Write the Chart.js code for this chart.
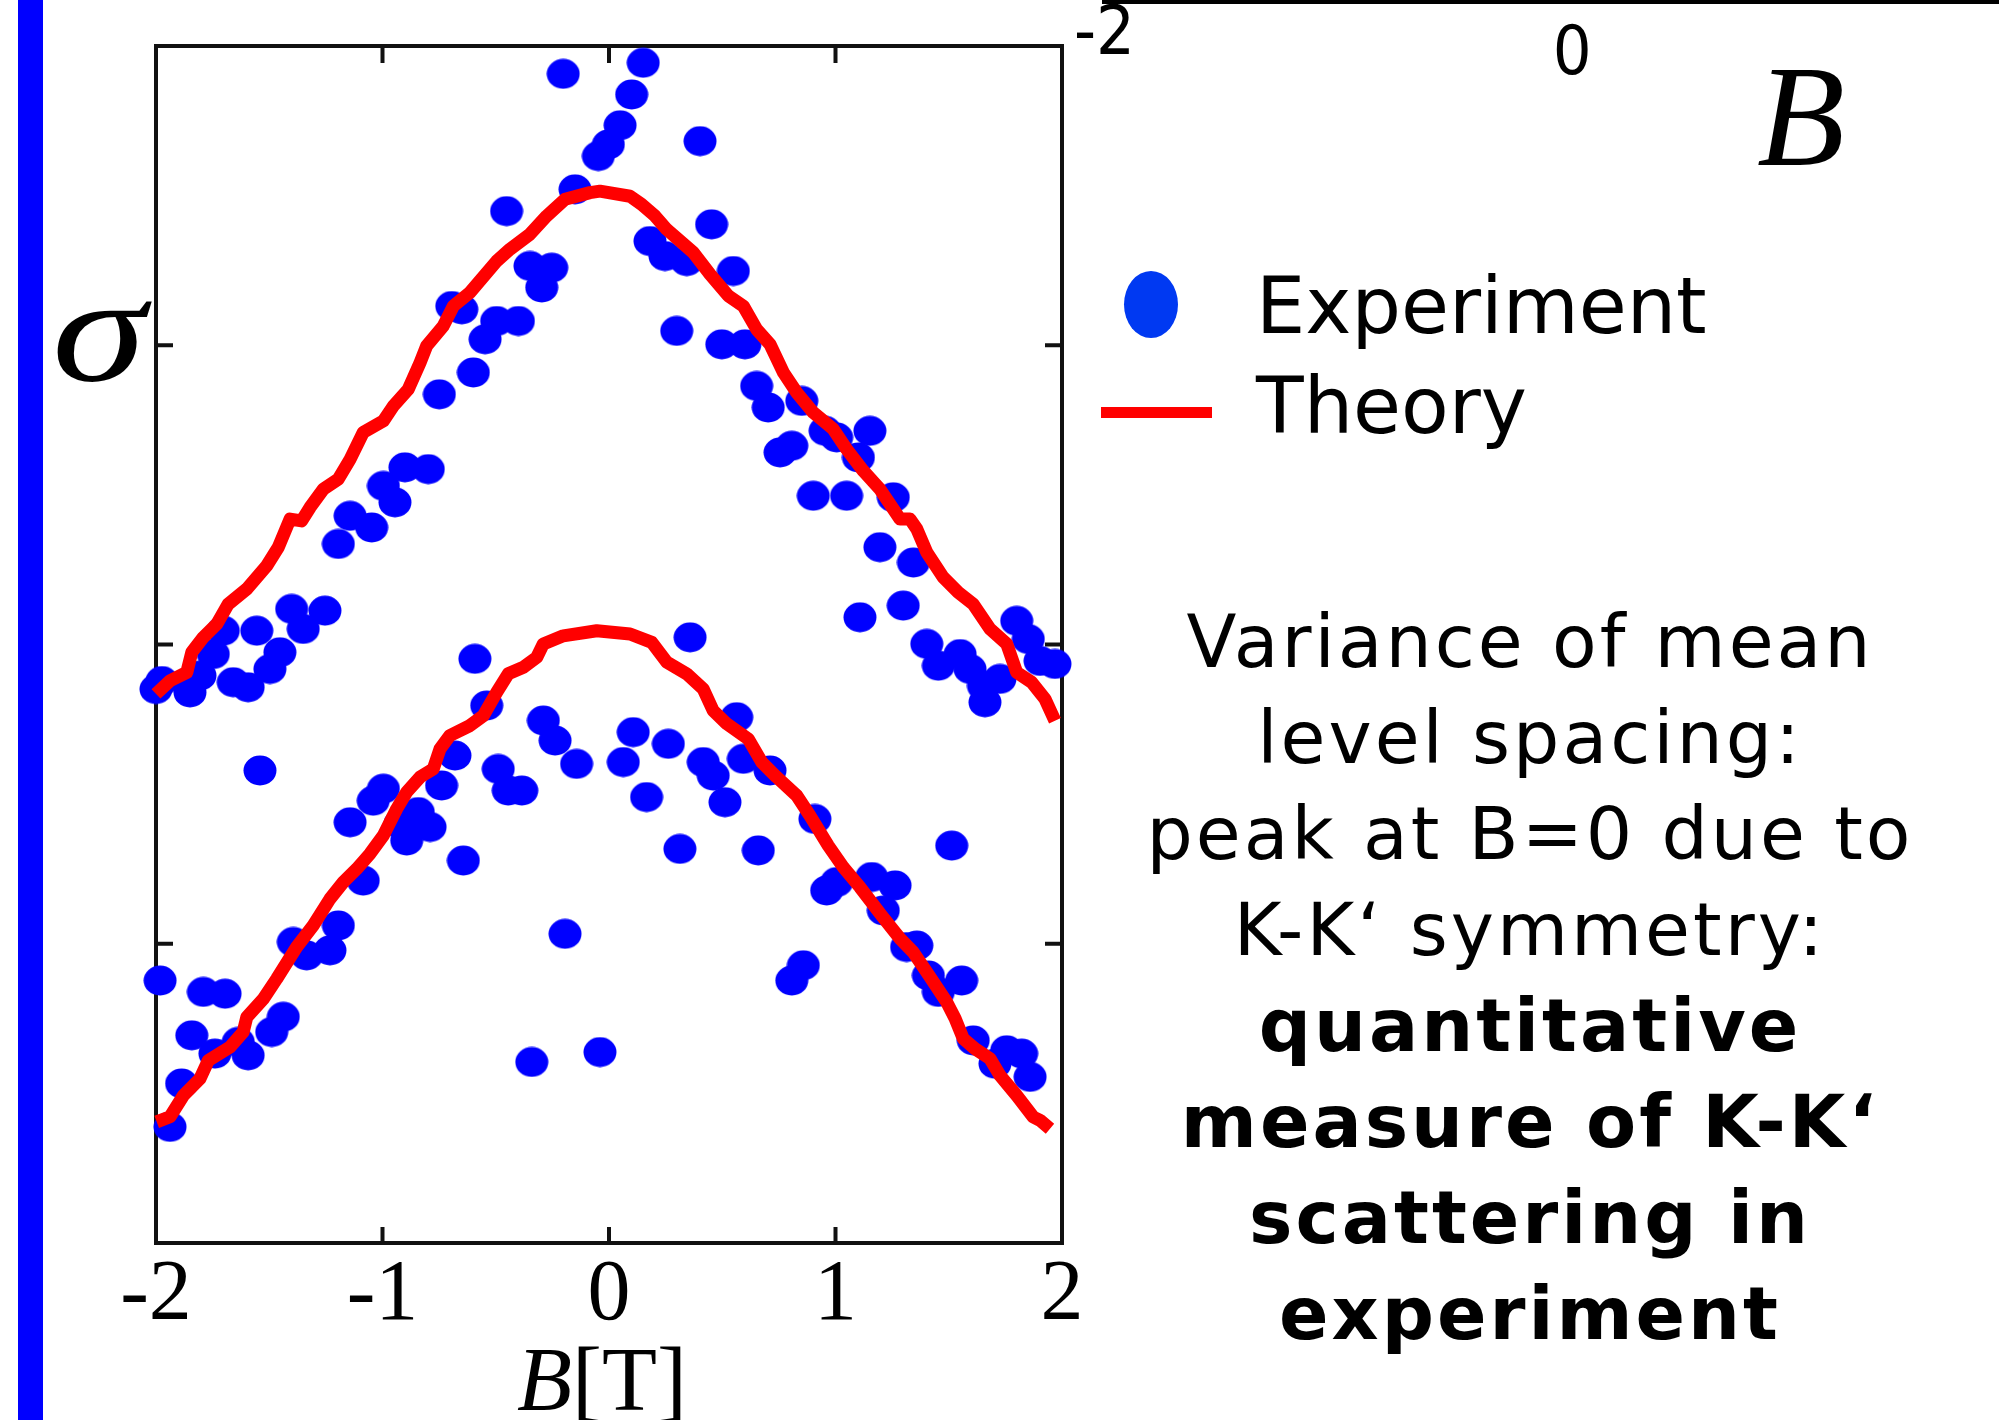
<!DOCTYPE html>
<html>
<head>
<meta charset="utf-8">
<script src="https://cdn.jsdelivr.net/npm/chart.js@4.4.1/dist/chart.umd.min.js"></script>
<style>
  html, body { margin: 0; padding: 0; background: #fff; }
  body { width: 1999px; height: 1420px; position: relative; overflow: hidden; }
  .abs { position: absolute; white-space: nowrap; color: #000; }
  #bar { left: 18px; top: 0; width: 25px; height: 1420px; background: #0000ff; }
  #main { left: 0; top: 0; width: 1100px; height: 1420px; }
  #top { left: 1060px; top: -216px; width: 1020px; height: 300px; }
  .serif { font-family: 'Liberation Serif', 'DejaVu Serif', serif; }
  .sans { font-family: 'DejaVu Sans', sans-serif; }
  #sigma { left: 52px; top: 254px; font-size: 152px; line-height: 1; font-style: italic;
           transform: scaleX(1.25); transform-origin: left top; }
  #xtitle { left: 517px; top: 1335px; font-size: 90px; line-height: 1; }
  #bigB { left: 1757px; top: 45px; font-size: 144px; line-height: 1; font-style: italic; }
  #dotKey { left: 1124px; top: 271px; width: 54px; height: 67px; border-radius: 50%; background: #0039f2; }
  #lineKey { left: 1101px; top: 407px; width: 111px; height: 11px; background: #ff0000; }
  .key { left: 1256px; font-size: 78px; line-height: 1; }
  #note { left: 1130px; top: 594px; width: 800px; text-align: center; font-size: 73px;
          line-height: 96px; letter-spacing: 3px; white-space: normal; }
  #note b { font-weight: bold; }
</style>
</head>
<body>
<div id="bar" class="abs"></div>
<div id="main" class="abs"><canvas id="varianceChart"></canvas></div>
<div id="top" class="abs"><canvas id="topAxis"></canvas></div>

<div id="sigma" class="abs serif">σ</div>
<div id="xtitle" class="abs serif"><i>B</i>[T]</div>
<div id="bigB" class="abs serif">B</div>

<div id="dotKey" class="abs"></div>
<div class="abs sans key" style="top:267px">Experiment</div>
<div id="lineKey" class="abs"></div>
<div class="abs sans key" style="top:367px">Theory</div>

<div id="note" class="abs sans">Variance of mean<br>level spacing:<br>peak at B=0 due to<br>K-K‘ symmetry:<br><b>quantitative<br>measure of K-K‘<br>scattering in<br>experiment</b></div>

<script>
// magnetic field B [T] and sigma (arb. units)
const upperExpB = [-0.202, 0.151, 0.100, 0.049, -0.003, -0.047, -0.150, -0.452, 0.181, 0.247,
  0.343, -0.349, -0.253, -0.297, -0.694, -0.650, -0.496, -0.400, -0.547, -0.599,
  -0.749, -0.901, -0.798, -0.996, -0.945, -1.143, -1.048, -1.195, -1.401, -1.254,
  -1.350, -1.555, -1.703, -1.453, -1.747, -1.497, -1.806, -1.659, -1.593, -1.850,
  -1.974, -2.000, 0.402, 0.453, 0.549, 0.299, 0.498, 0.600, 0.652, 0.703,
  0.851, 0.954, 1.005, 1.152, 1.101, 0.755, 0.807, 0.902, 1.049, 1.255,
  1.196, 1.344, 1.108, 1.299, 1.800, 1.851, 1.403, 1.454, 1.550, 1.594,
  1.653, 1.660, 1.726, 1.903, 1.969];
const upperExpSigma = [3.907, 3.944, 3.838, 3.735, 3.671, 3.632, 3.521, 3.448, 3.348, 3.298,
  3.281, 3.265, 3.259, 3.193, 3.131, 3.120, 3.081, 3.081, 3.020, 2.909,
  2.836, 2.592, 2.586, 2.530, 2.475, 2.430, 2.391, 2.336, 2.119, 2.113,
  2.052, 2.046, 2.046, 1.974, 1.968, 1.918, 1.896, 1.874, 1.857, 1.840,
  1.878, 1.851, 3.682, 3.404, 3.248, 3.048, 3.003, 3.003, 2.864, 2.792,
  2.814, 2.714, 2.692, 2.714, 2.625, 2.642, 2.664, 2.497, 2.497, 2.492,
  2.325, 2.274, 2.091, 2.130, 2.079, 2.018, 2.002, 1.929, 1.968, 1.918,
  1.862, 1.807, 1.885, 1.945, 1.935];

const lowerExpB = [-0.592, -0.540, -0.290, -0.238, 0.107, 0.063, -0.143, 0.166, -0.680, -0.739,
  -0.489, -0.445, -0.385, -0.996, -1.041, -1.541, -1.143, -0.842, -0.790, -0.923,
  -0.893, -0.643, -1.085, -1.195, -1.394, -1.335, -1.232, -0.194, -1.982, -1.791,
  -1.695, -1.438, -1.842, -1.740, -1.593, -1.637, -1.489, -1.887, -1.938, -0.341,
  -0.040, 0.358, 0.262, 0.416, 0.460, 0.512, 0.564, 0.593, 0.711, 0.909,
  0.313, 0.659, 1.513, 0.961, 1.005, 1.160, 1.263, 1.211, 1.359, 1.314,
  1.410, 1.557, 1.454, 0.858, 0.807, 1.608, 1.756, 1.822, 1.704, 1.859];
const lowerExpSigma = [1.952, 1.796, 1.746, 1.679, 1.707, 1.607, 1.601, 1.490, 1.629, 1.529,
  1.584, 1.512, 1.512, 1.518, 1.478, 1.579, 1.406, 1.440, 1.390, 1.401,
  1.345, 1.278, 1.211, 1.061, 1.006, 0.961, 0.978, 1.033, 0.877, 0.839,
  0.833, 0.756, 0.694, 0.633, 0.627, 0.672, 0.705, 0.533, 0.388, 0.605,
  0.638, 2.024, 1.668, 1.607, 1.562, 1.473, 1.757, 1.618, 1.579, 1.417,
  1.317, 1.312, 1.328, 1.178, 1.206, 1.223, 1.195, 1.111, 0.994, 0.989,
  0.894, 0.877, 0.839, 0.928, 0.877, 0.677, 0.644, 0.633, 0.599, 0.555];

const upperTheoryB = [-2.000, -1.938, -1.864, -1.842, -1.791, -1.732, -1.681, -1.600, -1.511, -1.460,
  -1.408, -1.357, -1.320, -1.261, -1.195, -1.143, -1.085, -0.996, -0.952, -0.886,
  -0.834, -0.805, -0.732, -0.687, -0.614, -0.496, -0.437, -0.349, -0.275, -0.194,
  -0.084, -0.040, 0.093, 0.144, 0.203, 0.255, 0.372, 0.446, 0.527, 0.593,
  0.652, 0.711, 0.770, 0.829, 0.902, 0.990, 1.049, 1.123, 1.196, 1.285,
  1.329, 1.359, 1.403, 1.476, 1.542, 1.608, 1.682, 1.756, 1.800, 1.866,
  1.925, 1.969];
const upperTheorySigma = [1.835, 1.879, 1.907, 1.974, 2.024, 2.068, 2.135, 2.185, 2.263, 2.325,
  2.419, 2.413, 2.458, 2.519, 2.553, 2.619, 2.709, 2.747, 2.797, 2.853,
  2.942, 2.998, 3.064, 3.131, 3.176, 3.281, 3.321, 3.371, 3.432, 3.488,
  3.510, 3.515, 3.498, 3.471, 3.432, 3.387, 3.310, 3.237, 3.165, 3.131,
  3.053, 3.003, 2.909, 2.842, 2.775, 2.720, 2.653, 2.580, 2.519, 2.419,
  2.419, 2.386, 2.308, 2.224, 2.174, 2.135, 2.052, 2.002, 1.907, 1.874,
  1.818, 1.745];

const lowerTheoryB = [-1.997, -1.938, -1.879, -1.806, -1.769, -1.673, -1.615, -1.599, -1.526, -1.467,
  -1.379, -1.306, -1.232, -1.173, -1.114, -1.055, -0.996, -0.937, -0.893, -0.834,
  -0.776, -0.746, -0.702, -0.614, -0.555, -0.496, -0.445, -0.378, -0.319, -0.290,
  -0.202, -0.054, 0.093, 0.189, 0.255, 0.343, 0.416, 0.460, 0.520, 0.615,
  0.674, 0.740, 0.829, 0.887, 0.968, 1.034, 1.108, 1.204, 1.285, 1.343,
  1.417, 1.491, 1.528, 1.564, 1.616, 1.682, 1.726, 1.800, 1.873, 1.903,
  1.947];
const lowerTheorySigma = [0.405, 0.422, 0.493, 0.549, 0.610, 0.655, 0.705, 0.755, 0.816, 0.883,
  0.989, 1.061, 1.150, 1.206, 1.250, 1.301, 1.362, 1.451, 1.507, 1.557,
  1.584, 1.651, 1.696, 1.729, 1.762, 1.840, 1.902, 1.924, 1.957, 2.002,
  2.029, 2.046, 2.035, 2.007, 1.941, 1.902, 1.851, 1.779, 1.735, 1.684,
  1.607, 1.557, 1.495, 1.428, 1.328, 1.256, 1.189, 1.094, 1.017, 0.972,
  0.889, 0.805, 0.750, 0.683, 0.649, 0.616, 0.560, 0.493, 0.421, 0.410,
  0.382];

const xTickLabels = ['-2', '-1', '0', '1', '2'];
const innerXTicks = [-1, 0, 1];
const innerYTicks = [1, 2, 3];
const topAxisLabels = ['-2', '0', '2'];

const toPoints = (xs, ys) => xs.map((x, i) => ({ x: x, y: ys[i] }));

// slightly flattened dot, like the scanned markers
const dot = document.createElement('canvas');
dot.width = 34;
dot.height = 31;
const dctx = dot.getContext('2d');
dctx.fillStyle = '#0000ff';
dctx.beginPath();
dctx.ellipse(17, 15.5, 16.5, 15, 0, 0, Math.PI * 2);
dctx.fill();

// box frame with inward ticks
const frameTicks = {
  id: 'frameTicks',
  beforeDatasetsDraw(chart) {
    const { ctx, chartArea: a, scales } = chart;
    ctx.save();
    ctx.strokeStyle = '#111';
    ctx.lineWidth = 4;
    ctx.strokeRect(a.left, a.top, a.right - a.left, a.bottom - a.top);
    ctx.beginPath();
    innerXTicks.forEach(v => {
      const px = scales.x.getPixelForValue(v);
      ctx.moveTo(px, a.top); ctx.lineTo(px, a.top + 17);
      ctx.moveTo(px, a.bottom); ctx.lineTo(px, a.bottom - 16);
    });
    innerYTicks.forEach(v => {
      const py = scales.y.getPixelForValue(v);
      ctx.moveTo(a.left, py); ctx.lineTo(a.left + 17, py);
      ctx.moveTo(a.right, py); ctx.lineTo(a.right - 17, py);
    });
    ctx.stroke();
    ctx.restore();
  }
};

const theoryStyle = {
  showLine: true,
  borderColor: '#ff0000',
  borderWidth: 13,
  borderJoinStyle: 'round',
  pointRadius: 0,
  tension: 0,
  order: 0,
  clip: false
};

new Chart(document.getElementById('varianceChart'), {
  type: 'scatter',
  data: {
    datasets: [
      Object.assign({ label: 'Theory', data: toPoints(upperTheoryB, upperTheorySigma) }, theoryStyle),
      Object.assign({ label: 'Theory', data: toPoints(lowerTheoryB, lowerTheorySigma) }, theoryStyle),
      {
        label: 'Experiment',
        data: toPoints(upperExpB, upperExpSigma).concat(toPoints(lowerExpB, lowerExpSigma)),
        pointStyle: dot,
        pointRadius: 16,
        backgroundColor: '#0000ff',
        borderWidth: 0,
        order: 1,
        clip: false
      }
    ]
  },
  options: {
    responsive: true,
    maintainAspectRatio: false,
    animation: false,
    events: [],
    layout: {
      padding: { left: 156, top: 46, right: 38, bottom: 0 }
    },
    scales: {
      x: {
        type: 'linear',
        min: -2,
        max: 2,
        grid: { display: false, drawTicks: false },
        border: { display: false },
        ticks: {
          stepSize: 1,
          maxRotation: 0,
          padding: 2,
          color: '#000',
          font: { family: "'Liberation Serif', serif", size: 86 },
          callback: (v, i) => xTickLabels[i]
        },
        afterFit: (s) => { s.height = 177; }
      },
      y: {
        display: false,
        min: 0,
        max: 4
      }
    },
    plugins: {
      legend: { display: false },
      tooltip: { enabled: false }
    }
  },
  plugins: [frameTicks]
});

// cut-off axis of the neighbouring panel, top right
new Chart(document.getElementById('topAxis'), {
  type: 'scatter',
  data: { datasets: [{ data: [] }] },
  options: {
    responsive: true,
    maintainAspectRatio: false,
    animation: false,
    events: [],
    layout: { padding: { left: 40, right: 40, top: 0, bottom: 0 } },
    scales: {
      x: {
        type: 'linear',
        min: -2,
        max: 2,
        grid: { display: false, drawTicks: false },
        border: { display: true, color: '#000', width: 4 },
        ticks: {
          stepSize: 2,
          maxRotation: 0,
          padding: 14,
          color: '#000',
          // the first label sits higher in the original
          font: (c) => ({
            family: "'DejaVu Sans Condensed', 'DejaVu Sans', sans-serif",
            size: 68,
            lineHeight: c.index === 0 ? 0.6 : 1.2
          }),
          callback: (v, i) => topAxisLabels[i]
        },
        afterFit: (s) => { s.height = 82; }
      },
      y: { display: false, min: 0, max: 1 }
    },
    plugins: {
      legend: { display: false },
      tooltip: { enabled: false }
    }
  }
});
</script>
</body>
</html>
